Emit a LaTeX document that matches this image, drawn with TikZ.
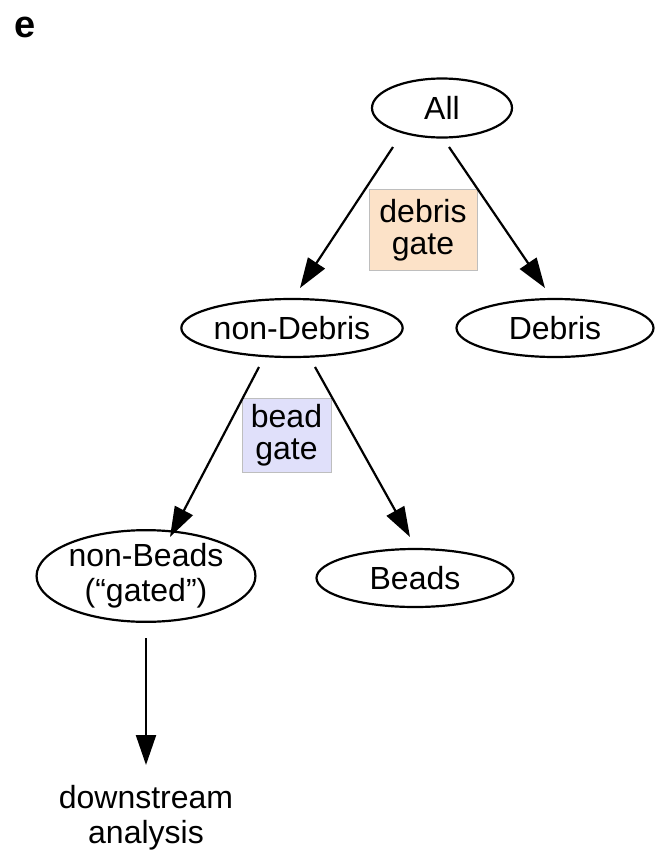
\documentclass[tikz,border=0pt]{standalone}
\usepackage{fontspec}
\setmainfont{Liberation Sans}
\usetikzlibrary{shapes.geometric,arrows.meta}
\definecolor{peach}{RGB}{252,226,200}
\definecolor{lavender}{RGB}{224,224,250}
\definecolor{boxline}{RGB}{190,190,190}
\begin{document}
\begin{tikzpicture}[x=1pt,y=-1pt,
  every node/.style={font=\fontsize{32}{35}\selectfont},
  oval/.style={ellipse,draw,line width=2.2pt,inner sep=0pt},
  gatebox/.style={draw=boxline,line width=0.8pt,inner sep=0pt,align=center,font=\fontsize{32}{32}\selectfont},
  arr/.style={line width=2.2pt,-{Triangle[length=30pt,width=20pt]}}]
\useasboundingbox (0,0) rectangle (655,852);
\node[font=\bfseries\fontsize{38}{40}\selectfont] (lab) at (25,27) {e};
\node[oval,minimum width=140pt,minimum height=59pt] (all) at (442,108) {All};
\node[oval,minimum width=201pt,minimum height=58pt] (nondeb) at (292,328) {non-Debris};
\node[oval,minimum width=197pt,minimum height=58pt] (deb) at (555,328) {Debris};
\node[oval,minimum width=197pt,minimum height=58pt] (beads) at (415,578) {Beads};
\node[oval,minimum width=198pt,minimum height=78pt,align=center] (nonbeads) at (146,576) {non-Beads\\(“gated”)};
\node[gatebox,fill=peach,minimum width=108pt,minimum height=81pt] (dg) at (423,230) {debris\\gate};
\node[gatebox,fill=lavender,minimum width=89pt,minimum height=74pt] (bg) at (286.5,435) {bead\\gate};
\node[align=center] (ds) at (146,818) {downstream\\analysis};
\draw[arr] ([shift={(-49,39)}]all.center) -- ([shift={(8,-40)}]nondeb.center);
\draw[arr] ([shift={(7,39)}]all.center) -- ([shift={(-10,-40)}]deb.center);
\draw[arr] ([shift={(-33,39)}]nondeb.center) -- ([shift={(24,-39)}]nonbeads.center);
\draw[arr] ([shift={(23,39)}]nondeb.center) -- ([shift={(-5,-41)}]beads.center);
\draw[arr] ([shift={(0,62)}]nonbeads.center) -- ([shift={(0,-53)}]ds.center);
\end{tikzpicture}
\end{document}
